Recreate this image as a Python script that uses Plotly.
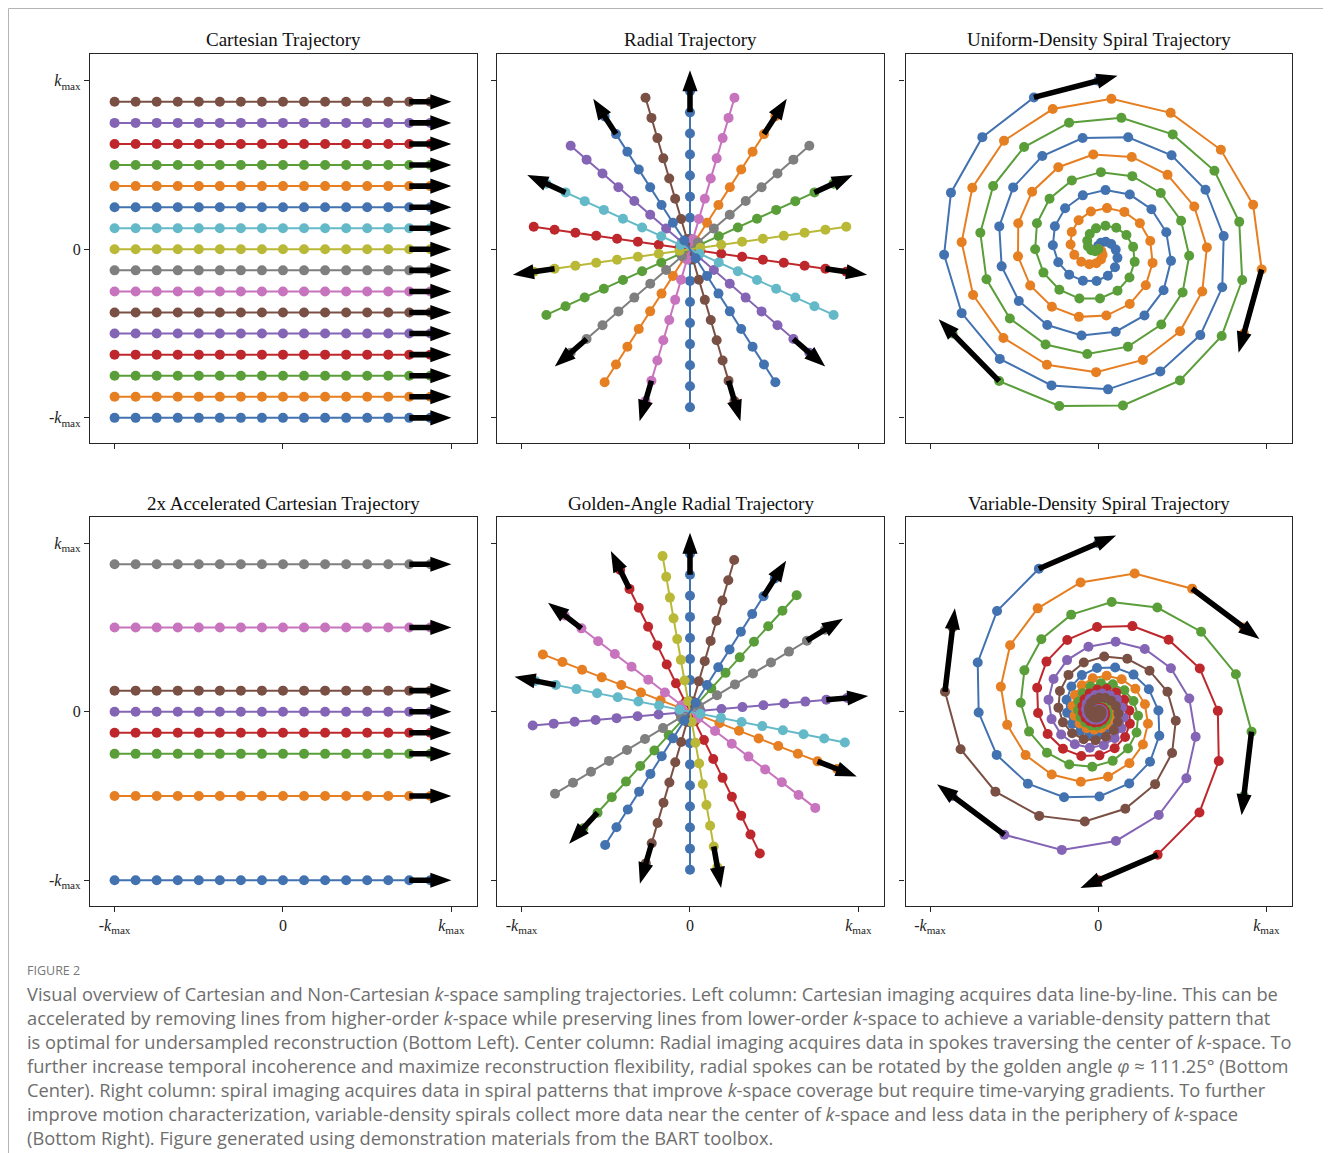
import math
import plotly.graph_objects as go

# The page body adds an 8px margin, so the figure is drawn 8px smaller and
# every reference pixel position is shifted by OFF.
OFF = 8
W, H = 1331 - OFF, 1153 - OFF

# ---------------- data ----------------
COLORS = ["#4272b0", "#e67e22", "#5a9e3a", "#be282d", "#8464b4",
          "#7a5045", "#c873be", "#7f7f7f", "#b9b937", "#64b9c8"]

TICK_VALS = [-1, 0, 1]
TICK_TEXT = ["-<i>k</i><sub>max</sub>", "0", "<i>k</i><sub>max</sub>"]

PANEL_TITLES = ["Cartesian Trajectory", "Radial Trajectory",
                "Uniform-Density Spiral Trajectory",
                "2x Accelerated Cartesian Trajectory",
                "Golden-Angle Radial Trajectory",
                "Variable-Density Spiral Trajectory"]

# Cartesian readout sample positions (kx, units of kmax)
cart_readout = [-1.0, -0.875, -0.75, -0.625, -0.5, -0.375, -0.25, -0.125,
                0.0, 0.125, 0.25, 0.375, 0.5, 0.625, 0.75, 0.875]
# phase-encode lines (ky) fully sampled
cart_lines = [-1.0, -0.875, -0.75, -0.625, -0.5, -0.375, -0.25, -0.125,
              0.0, 0.125, 0.25, 0.375, 0.5, 0.625, 0.75, 0.875]
# phase-encode lines kept in 2x accelerated acquisition
accel_lines = [-1.0, -0.5, -0.25, -0.125, 0.0, 0.125, 0.5, 0.875]

# radial samples along each spoke
radial_samples = [-0.9375, -0.8125, -0.6875, -0.5625, -0.4375, -0.3125,
                  -0.1875, -0.0625, 0.0625, 0.1875, 0.3125, 0.4375,
                  0.5625, 0.6875, 0.8125, 0.9375]
# spoke direction (degrees) in acquisition order
radial_angles = [90.0, 57.27, 24.55, -8.18, -40.91, -73.64, -106.36,
                 -139.09, -171.82, -204.55, -237.27]
golden_angles = [90.0, -21.25, -132.5, 116.25, 5.0, -106.25, 142.5,
                 31.25, -80.0, 168.75, 57.5]

# uniform-density spiral, first interleave (centre -> edge)
uds_radius = [0.000, 0.021, 0.042, 0.063, 0.083, 0.104, 0.125, 0.146, 0.167,
              0.188, 0.208, 0.229, 0.250, 0.271, 0.292, 0.313, 0.333, 0.354,
              0.375, 0.396, 0.417, 0.438, 0.458, 0.479, 0.500, 0.521, 0.542,
              0.563, 0.583, 0.604, 0.625, 0.646, 0.667, 0.688, 0.708, 0.729,
              0.750, 0.771, 0.792, 0.813, 0.833, 0.854, 0.875, 0.896, 0.917,
              0.938, 0.958, 0.979, 1.000]
uds_angle = [1194, 1171, 1148, 1125, 1102, 1079, 1056, 1033, 1010, 987, 964,
             941, 918, 895, 872, 849, 826, 803, 780, 757, 734, 711, 688, 665,
             642, 619, 596, 573, 550, 527, 504, 481, 458, 435, 412, 389, 366,
             343, 320, 297, 274, 251, 228, 205, 182, 159, 136, 113, 90]
uds_arm_offsets = [0, -120, -240]

# variable-density spiral, first interleave (edge -> centre as read)
vds_radius_out_in = [1.000, 0.919, 0.848, 0.774, 0.711, 0.656, 0.598, 0.547,
                     0.503, 0.464, 0.428, 0.390, 0.358, 0.329, 0.304, 0.281,
                     0.259, 0.238, 0.219, 0.201, 0.185, 0.170, 0.156, 0.143,
                     0.131, 0.120, 0.110, 0.100, 0.091, 0.083, 0.075, 0.068,
                     0.061, 0.055, 0.049, 0.044, 0.039, 0.034, 0.030, 0.026,
                     0.022, 0.019, 0.016, 0.013, 0.010, 0.008, 0.006, 0.004,
                     0.002, 0.000]
vds_angle_out_in = [90.0, 112.6, 135.2, 157.8, 180.4, 203.0, 225.6, 248.2,
                    270.8, 293.4, 316.0, 338.6, 361.2, 383.8, 406.4, 429.0,
                    451.6, 474.2, 496.8, 519.4, 542.0, 564.6, 587.2, 609.8,
                    632.4, 655.0, 677.6, 700.2, 722.8, 745.4, 768.0, 790.6,
                    813.2, 835.8, 858.4, 881.0, 903.6, 926.2, 948.8, 971.4,
                    994.0, 1016.6, 1039.2, 1061.8, 1084.4, 1107.0, 1129.6,
                    1152.2, 1174.8, 1197.4]
vds_arm_offsets = [0, -60, -120, -180, -240, -300]

CAPTION_LINES = [
    "Visual overview of Cartesian and Non-Cartesian <i>k</i>-space sampling trajectories. Left column: Cartesian imaging acquires data line-by-line. This can be",
    "accelerated by removing lines from higher-order <i>k</i>-space while preserving lines from lower-order <i>k</i>-space to achieve a variable-density pattern that",
    "is optimal for undersampled reconstruction (Bottom Left). Center column: Radial imaging acquires data in spokes traversing the center of <i>k</i>-space. To",
    "further increase temporal incoherence and maximize reconstruction flexibility, radial spokes can be rotated by the golden angle <i>φ</i> ≈ 111.25° (Bottom",
    "Center). Right column: spiral imaging acquires data in spiral patterns that improve <i>k</i>-space coverage but require time-varying gradients. To further",
    "improve motion characterization, variable-density spirals collect more data near the center of <i>k</i>-space and less data in the periphery of <i>k</i>-space",
    "(Bottom Right). Figure generated using demonstration materials from the BART toolbox.",
]

# ---------------- layout geometry (reference pixels) ----------------
COL_X = [(90, 477), (497, 884), (905.5, 1292)]
ROW_Y = [(54.3, 443.3), (516.7, 905.7)]
TITLE_Y = [40, 503]
AX_RANGE_X = [-1.146, 1.152]
AX_RANGE_Y = [-1.151, 1.157]

MARKER_SIZE = 10
LINE_W = 2.0


def px_x(px):
    return (px - OFF) / W


def px_y(py):
    return 1 - (py - OFF) / H


fig = go.Figure()


def ax_names(p):
    n = p + 1
    return ("x" if n == 1 else f"x{n}"), ("y" if n == 1 else f"y{n}")


def add_path(p, xs, ys, color):
    xa, ya = ax_names(p)
    fig.add_trace(go.Scatter(x=xs, y=ys, mode="lines+markers", xaxis=xa, yaxis=ya,
                             line=dict(color=color, width=LINE_W),
                             marker=dict(color=color, size=MARKER_SIZE),
                             hoverinfo="skip", showlegend=False))


arrows = {p: [] for p in range(6)}


def queue_arrow(p, x0, y0, dx, dy):
    arrows[p].append((x0, y0, dx, dy))


def draw_arrows(p):
    xa, ya = ax_names(p)
    shaft_hw, head_len, head_hw = 0.0165, 0.125, 0.045
    for (x0, y0, dx, dy) in arrows[p]:
        L = math.hypot(dx, dy)
        ux, uy = dx / L, dy / L
        nx, ny = -uy, ux
        b = max(L - head_len, 0.0)
        pts = [(x0 + nx * shaft_hw, y0 + ny * shaft_hw),
               (x0 + ux * b + nx * shaft_hw, y0 + uy * b + ny * shaft_hw),
               (x0 + ux * b + nx * head_hw, y0 + uy * b + ny * head_hw),
               (x0 + dx, y0 + dy),
               (x0 + ux * b - nx * head_hw, y0 + uy * b - ny * head_hw),
               (x0 + ux * b - nx * shaft_hw, y0 + uy * b - ny * shaft_hw),
               (x0 - nx * shaft_hw, y0 - ny * shaft_hw)]
        fig.add_trace(go.Scatter(x=[q[0] for q in pts] + [pts[0][0]],
                                 y=[q[1] for q in pts] + [pts[0][1]],
                                 mode="lines", fill="toself", fillcolor="black",
                                 line=dict(width=0, color="black"),
                                 xaxis=xa, yaxis=ya, hoverinfo="skip",
                                 showlegend=False))


def cartesian_panel(p, lines):
    for i, ky in enumerate(lines):
        xs = list(cart_readout)
        ys = [ky] * len(xs)
        add_path(p, xs, ys, COLORS[i % 10])
        queue_arrow(p, xs[-2], ys[-2], 2 * (xs[-1] - xs[-2]), 0.0)
    draw_arrows(p)


def radial_panel(p, angles):
    for i, ang in enumerate(angles):
        c, s = math.cos(math.radians(ang)), math.sin(math.radians(ang))
        xs = [r * c for r in radial_samples]
        ys = [r * s for r in radial_samples]
        add_path(p, xs, ys, COLORS[i % 10])
        queue_arrow(p, xs[-2], ys[-2], 2 * (xs[-1] - xs[-2]), 2 * (ys[-1] - ys[-2]))
    draw_arrows(p)


def spiral_panel(p, radius, angle, offsets, scale):
    for i, off in enumerate(offsets):
        xs = [r * math.cos(math.radians(a + off)) for r, a in zip(radius, angle)]
        ys = [r * math.sin(math.radians(a + off)) for r, a in zip(radius, angle)]
        add_path(p, xs, ys, COLORS[i % 10])
        queue_arrow(p, xs[-2], ys[-2], scale * (xs[-1] - xs[-2]), scale * (ys[-1] - ys[-2]))
    draw_arrows(p)


cartesian_panel(0, cart_lines)
radial_panel(1, radial_angles)
spiral_panel(2, uds_radius, uds_angle, uds_arm_offsets, 1.3)
cartesian_panel(3, accel_lines)
radial_panel(4, golden_angles)
spiral_panel(5, list(reversed(vds_radius_out_in)), list(reversed(vds_angle_out_in)),
             vds_arm_offsets, 1.3)

# ---------------- axes ----------------
SERIF = "Liberation Serif, DejaVu Serif, serif"
TICK_FONT = dict(family=SERIF, size=16, color="#222")
layout = dict(width=W, height=H, margin=dict(l=0, r=0, t=0, b=0),
              paper_bgcolor="white", plot_bgcolor="white", showlegend=False)
annotations = []
for p in range(6):
    row, col = divmod(p, 3)
    n = p + 1
    xk = "xaxis" if n == 1 else f"xaxis{n}"
    yk = "yaxis" if n == 1 else f"yaxis{n}"
    x0, x1 = COL_X[col]
    yt, yb = ROW_Y[row]
    common = dict(showgrid=False, zeroline=False, showline=True, mirror=True,
                  linecolor="#262626", linewidth=1.3, ticks="outside", ticklen=5,
                  tickwidth=1.1, tickcolor="#262626", tickvals=TICK_VALS,
                  ticktext=TICK_TEXT, tickfont=TICK_FONT, fixedrange=True)
    layout[xk] = dict(common, domain=[px_x(x0), px_x(x1)], range=AX_RANGE_X,
                      anchor=("y" if n == 1 else f"y{n}"),
                      showticklabels=(row == 1))
    layout[yk] = dict(common, domain=[px_y(yb), px_y(yt)], range=AX_RANGE_Y,
                      anchor=("x" if n == 1 else f"x{n}"),
                      showticklabels=(col == 0))
    annotations.append(dict(text=PANEL_TITLES[p], xref="paper", yref="paper",
                            x=px_x((x0 + x1) / 2), y=px_y(TITLE_Y[row]),
                            xanchor="center", yanchor="middle", showarrow=False,
                            font=dict(family=SERIF, size=19, color="#111")))

annotations.append(dict(text="FIGURE 2", xref="paper", yref="paper",
                        x=px_x(25), y=px_y(970), xanchor="left", yanchor="middle",
                        showarrow=False,
                        font=dict(family="Open Sans, Lato, sans-serif", size=12.5,
                                  color="#777")))
for i, line in enumerate(CAPTION_LINES):
    annotations.append(dict(text=line, xref="paper", yref="paper",
                            x=px_x(25), y=px_y(993 + 24 * i),
                            xanchor="left", yanchor="middle", showarrow=False,
                            font=dict(family="Open Sans, Lato, sans-serif",
                                      size=18.3, color="#6e6e6e")))
layout["annotations"] = annotations
layout["shapes"] = [dict(type="rect", xref="paper", yref="paper",
                         x0=0.5 / W, x1=px_x(1329.5), y0=-0.05, y1=1 - 0.5 / H,
                         line=dict(color="#b4b4b4", width=1),
                         fillcolor="rgba(0,0,0,0)")]
fig.update_layout(**layout)
fig.write_html("out.html")
